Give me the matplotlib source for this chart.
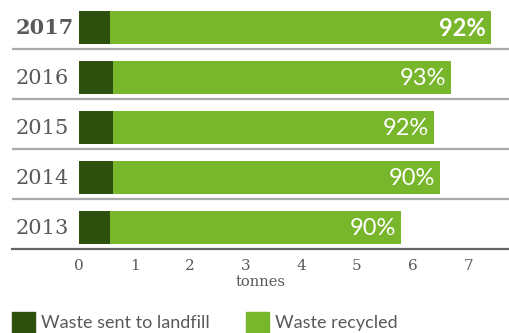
import matplotlib.pyplot as plt
from matplotlib.patches import Rectangle

# waste data (tonnes)
years = ['2013', '2014', '2015', '2016', '2017']
landfill = [0.56, 0.61, 0.61, 0.62, 0.56]
recycled = [5.23, 5.88, 5.77, 6.07, 6.85]
pct_labels = ['90%', '90%', '92%', '93%', '92%']
xticks = [0, 1, 2, 3, 4, 5, 6, 7]

dark = '#2e500f'
light = '#78b62b'
grey_txt = '#58595b'

W, H = 509, 333
fig = plt.figure(figsize=(W / 100, H / 100), dpi=100)
fig.patch.set_facecolor('white')

# axes in pixel terms: left 12px .. right 509px, top 0 .. bottom 249
ax = fig.add_axes([12 / W, (H - 249) / H, (W - 12) / W, 249 / H])
scale = 55.6  # px per tonne
x0 = 79 - 12
ax.set_xlim(-x0 / scale, (W - 12 - x0) / scale)
ax.set_ylim(-0.43, 4.55)

ypos = list(range(len(years)))
ax.barh(ypos, landfill, height=0.66, color=dark, label='Waste sent to landfill')
ax.barh(ypos, recycled, left=landfill, height=0.66, color=light, label='Waste recycled')

for i, (y, lf, rc, p) in enumerate(zip(years, landfill, recycled, pct_labels)):
    bold = (i == len(years) - 1)
    ax.text(-x0 / scale + 4 / scale, i - 0.02, y, ha='left', va='center',
            fontsize=15, family='DejaVu Serif', color=grey_txt,
            fontweight='bold' if bold else 'normal')
    ax.text(lf + rc - 5 / scale, i - 0.02, p, ha='right', va='center',
            fontsize=17, family='Lato', color='white',
            fontweight='bold' if bold else 'normal')
    if i > 0:
        ax.axhline(i - 0.43, color='#aaaaaa', lw=1.6)

for s in ['top', 'right', 'left']:
    ax.spines[s].set_visible(False)
ax.spines['bottom'].set_color('#666666')
ax.spines['bottom'].set_linewidth(1.6)

ax.set_yticks([])
ax.set_xticks(xticks)
ax.set_xticklabels([str(t) for t in xticks], family='DejaVu Serif',
                   fontsize=11, color=grey_txt)
ax.tick_params(axis='x', length=0, pad=7)

fig.text(261 / W, 1 - 282 / H, 'tonnes', ha='center', va='center',
         family='DejaVu Serif', fontsize=10.5, color=grey_txt)

# legend
handles = [(dark, 'Waste sent to landfill', 12), (light, 'Waste recycled', 246)]
for col, lab, px in handles:
    fig.patches.append(Rectangle((px / W, 0), 23 / W, 21 / H, color=col,
                                 transform=fig.transFigure, figure=fig))
    fig.text((px + 29) / W, 1 - 323 / H, lab, ha='left', va='center',
             family='Lato', fontsize=13, color=grey_txt)

fig.savefig('out.png', dpi=100)
